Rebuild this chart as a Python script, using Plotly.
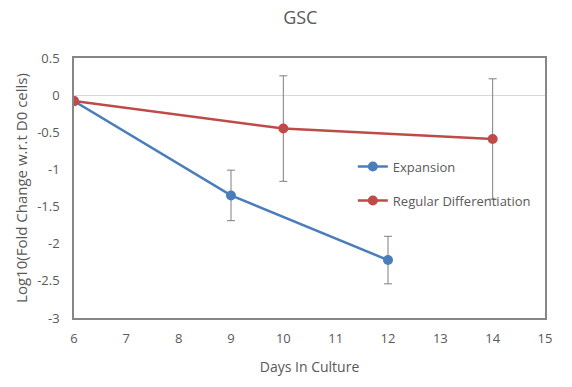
import plotly.graph_objects as go

days_exp = [6, 9, 12]
exp_vals = [-0.08, -1.35, -2.22]
exp_err = [0, 0.34, 0.32]

days_reg = [6, 10, 14]
reg_vals = [-0.08, -0.45, -0.59]
reg_err = [0, 0.71, 0.81]

y_ticks = [0.5, 0, -0.5, -1, -1.5, -2, -2.5, -3]
y_labels = ["0.5", "0", "-0.5", "-1", "-1.5", "-2", "-2.5", "-3"]
x_ticks = [6, 7, 8, 9, 10, 11, 12, 13, 14, 15]

FONT = "Open Sans, sans-serif"
GRAY = "#595959"

fig = go.Figure()
fig.add_trace(go.Scatter(
    x=days_exp, y=exp_vals, name="Expansion", mode="lines+markers", legendgroup="a",
    line=dict(color="#4A7EBB", width=2.5), marker=dict(size=10, color="#4A7EBB"),
    error_y=dict(type="data", array=exp_err, color="#7F7F7F", thickness=1, width=4),
))
fig.add_trace(go.Scatter(
    x=days_reg, y=reg_vals, name="Regular Differentiation", mode="lines+markers", legendgroup="b",
    line=dict(color="#BE4B48", width=2.5), marker=dict(size=10, color="#BE4B48"),
    error_y=dict(type="data", array=reg_err, color="#7F7F7F", thickness=1, width=4),
))

fig.update_layout(
    width=572, height=387,
    margin=dict(l=74, r=27, t=58, b=69),
    paper_bgcolor="white", plot_bgcolor="white",
    font=dict(family=FONT, color=GRAY, size=13),
    title=dict(text="GSC", x=0.525, xanchor="center", y=0.955, yanchor="middle",
               font=dict(size=18, color=GRAY, family=FONT)),
    showlegend=True,
    legend=dict(x=0.592, y=0.64, xanchor="left", yanchor="top",
                bgcolor="rgba(0,0,0,0)", font=dict(size=13, color=GRAY, family=FONT),
                itemwidth=30, tracegroupgap=14),
    xaxis=dict(range=[6, 15], tickvals=x_ticks, showgrid=False, zeroline=False,
               showline=True, linecolor="#868686", linewidth=1.5, mirror=True,
               ticks="outside", ticklen=8, tickcolor="rgba(0,0,0,0)",
               title=dict(text="Days In Culture", font=dict(size=14, color=GRAY, family=FONT), standoff=16),
               tickfont=dict(size=13, color=GRAY, family=FONT)),
    yaxis=dict(range=[-3, 0.5], tickvals=y_ticks, ticktext=y_labels, showgrid=False,
               zeroline=True, zerolinecolor="#D9D9D9", zerolinewidth=1.2,
               showline=True, linecolor="#868686", linewidth=1.5, mirror=True,
               ticks="outside", ticklen=10, tickcolor="rgba(0,0,0,0)",
               title=dict(text="Log10(Fold Change w.r.t D0 cells)", font=dict(size=15, color=GRAY, family=FONT), standoff=6),
               tickfont=dict(size=13, color=GRAY, family=FONT)),
)

fig.write_html("out.html")
